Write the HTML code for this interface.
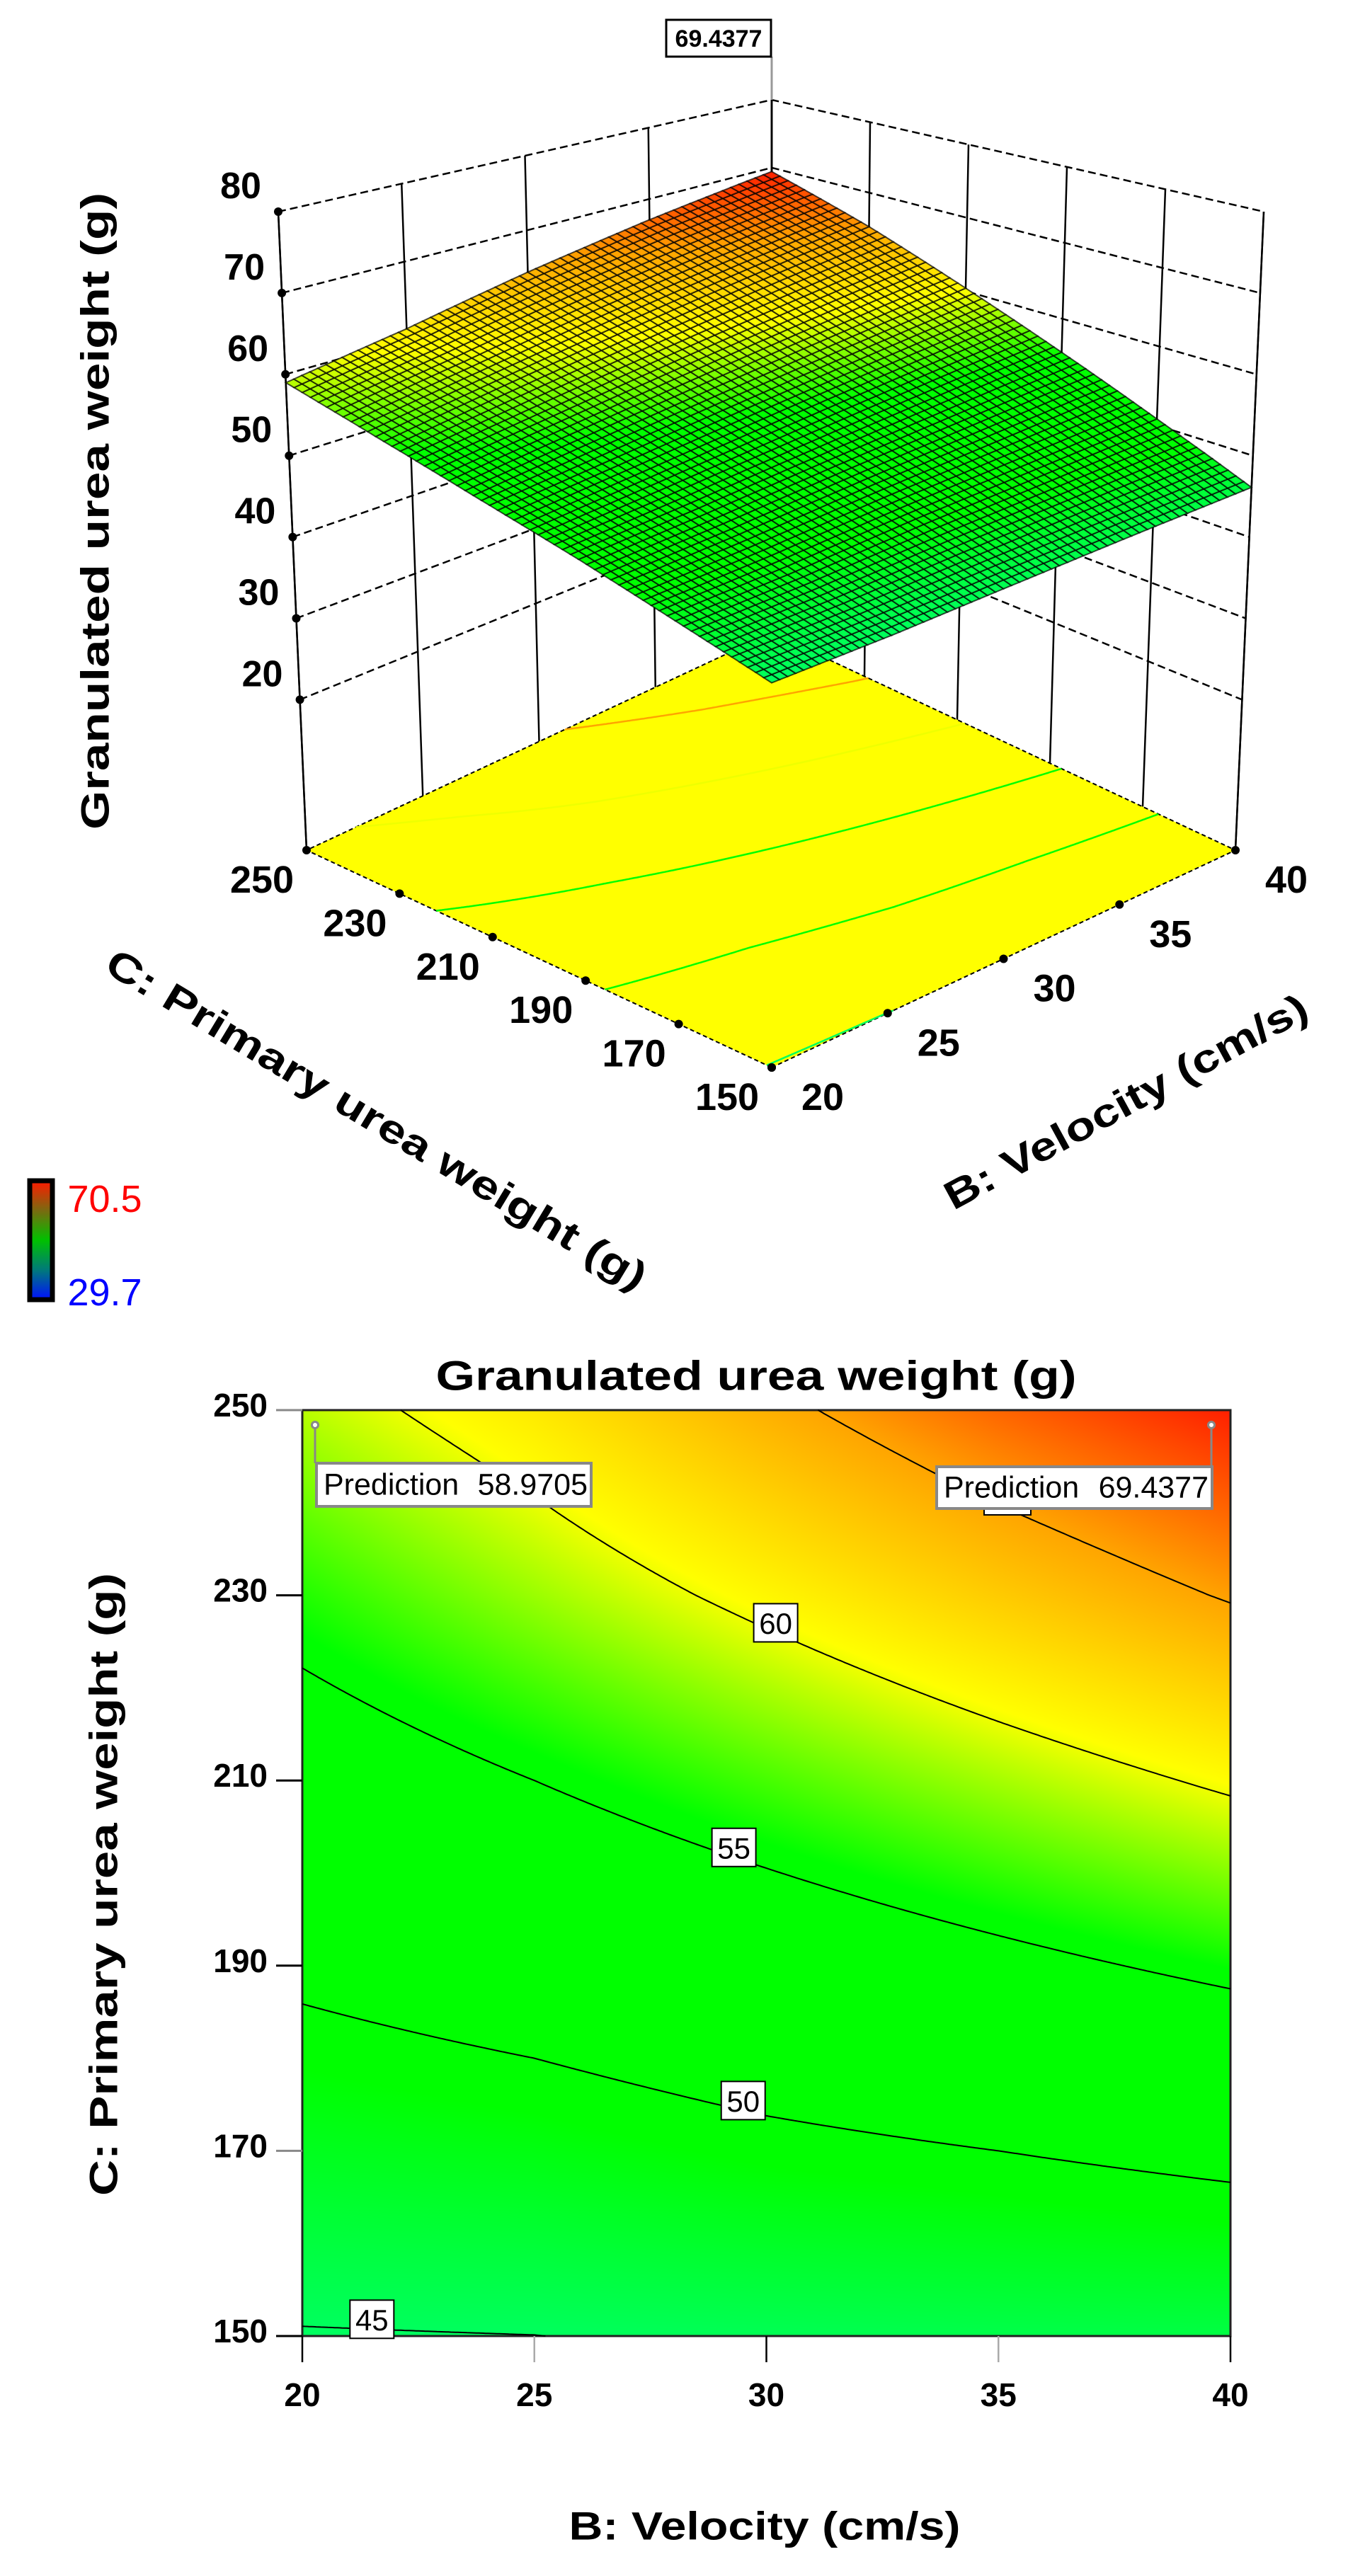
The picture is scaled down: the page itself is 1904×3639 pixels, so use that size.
<!DOCTYPE html>
<html><head><meta charset="utf-8"><style>
html,body{margin:0;padding:0;background:#fff;}
#wrap{position:relative;width:1904px;height:3639px;overflow:hidden;}
svg{position:absolute;left:0;top:0;}
canvas{position:absolute;left:427px;top:1992px;}
text{font-family:"Liberation Sans",Arial,sans-serif;}
</style></head><body>
<div id="wrap">
<canvas id="heat" width="1311" height="1308"></canvas>
<svg id="s" width="1904" height="3639" xmlns="http://www.w3.org/2000/svg"></svg>
</div>
<script>
// ---- data ----
const bVals = [20, 25, 30, 35, 40];
const cVals = [150, 170, 190, 210, 230, 250];
const yC150 = [44.85, 44.98, 45.4, 45.8, 46.1];
const yC170 = [47.7, 48.3, 49.3, 50.0, 50.8];
const yC190 = [50.6, 51.7, 53.0, 54.3, 55.6];
const yC210 = [53.3, 55.0, 56.8, 58.6, 60.4];
const yC230 = [56.1, 58.4, 60.7, 63.0, 65.2];
const yC250 = [58.97, 61.4, 64.4, 67.1, 69.44];
const contourLevels = [45, 50, 55, 60, 65];
const contourLabelLevels = [45, 50, 55, 60];
const contourLabelB = [21.5, 29.5, 29.3, 30.2];
const zTicks = [20, 30, 40, 50, 60, 70, 80];
const bTicks = [20, 25, 30, 35, 40];
const cTicks = [150, 170, 190, 210, 230, 250];
const predLeft = [20, 250, 58.9705];
const predRight = [40, 250, 69.4377];
const colorMin = 29.7, colorMax = 70.5;

const rows = [yC150, yC170, yC190, yC210, yC230, yC250];
function f(B, C) {
  let i = Math.min(3, Math.max(0, Math.floor((B - 20) / 5)));
  let j = Math.min(4, Math.max(0, Math.floor((C - 150) / 20)));
  const u = (B - bVals[i]) / 5, v = (C - cVals[j]) / 20;
  const a = rows[j][i], b = rows[j][i + 1], c = rows[j + 1][i], d = rows[j + 1][i + 1];
  return a * (1 - u) * (1 - v) + b * u * (1 - v) + c * (1 - u) * v + d * u * v;
}
const cmStops = [[29.7, [0, 0, 255]], [38, [0, 255, 255]], [49, [0, 255, 0]], [55.5, [0, 255, 0]], [60.3, [255, 255, 0]], [65, [255, 165, 0]], [70.5, [255, 0, 0]]];
function cmap(val) {
  if (val <= cmStops[0][0]) return cmStops[0][1];
  for (let k = 1; k < cmStops.length; k++) {
    if (val <= cmStops[k][0]) {
      const t = (val - cmStops[k - 1][0]) / (cmStops[k][0] - cmStops[k - 1][0]);
      const A = cmStops[k - 1][1], Bc = cmStops[k][1];
      return [0, 1, 2].map(q => Math.round(A[q] + (Bc[q] - A[q]) * t));
    }
  }
  return cmStops[cmStops.length - 1][1];
}
const rgb = c => `rgb(${c[0]},${c[1]},${c[2]})`;

const NS = "http://www.w3.org/2000/svg";
const svg = document.getElementById('s');
function el(tag, attrs, parent) {
  const e = document.createElementNS(NS, tag);
  for (const k in attrs) e.setAttribute(k, attrs[k]);
  (parent || svg).appendChild(e);
  return e;
}
function txt(str, x, y, size, weight, fill, extra, parent) {
  const t = el('text', Object.assign({x: x, y: y, 'font-size': size, 'font-weight': weight, fill: fill, 'text-anchor': 'middle', 'dominant-baseline': 'central'}, extra || {}), parent);
  t.textContent = str;
  return t;
}

// ---- 3D projection ----
const ZF = 1.5, ZT = 80;
const Ff = [1090, 1508], Rf = [1745, 1201], Lf = [433, 1201], Kf = [1090, 894];
const Ft = [1090, 524], Rt = [1785, 299], Lt = [393, 299], Kt = [1090, 141];
function bil(P0, P1, P2, P3, u, v) {
  return [0, 1].map(q => P0[q] * (1 - u) * (1 - v) + P1[q] * u * (1 - v) + P2[q] * (1 - u) * v + P3[q] * u * v);
}
function proj(B, C, z) {
  const u = (B - 20) / 20, v = (C - 150) / 100, w = (z - ZF) / (ZT - ZF);
  const a = bil(Ff, Rf, Lf, Kf, u, v), b = bil(Ft, Rt, Lt, Kt, u, v);
  return [a[0] + (b[0] - a[0]) * w, a[1] + (b[1] - a[1]) * w];
}
const P = p => p[0].toFixed(1) + ',' + p[1].toFixed(1);

const g3 = el('g', {});



const walls = el('g', {stroke: '#000', fill: 'none', 'stroke-width': 2.5}, g3);


zTicks.forEach(z => {
  const l = el('polyline', {points: P(proj(20, 250, z)) + ' ' + P(proj(40, 250, z)) + ' ' + P(proj(40, 150, z)), 'stroke-dasharray': '11 6'}, walls);
  
  
});
bTicks.forEach(B => {
  const l = el('line', {x1: proj(B, 250, ZF)[0], y1: proj(B, 250, ZF)[1], x2: proj(B, 250, ZT)[0], y2: proj(B, 250, ZT)[1]}, walls);
  
  
});
cTicks.forEach(C => {
  const l = el('line', {x1: proj(40, C, ZF)[0], y1: proj(40, C, ZF)[1], x2: proj(40, C, ZT)[0], y2: proj(40, C, ZT)[1]}, walls);
  
  
});
zTicks.forEach(z => {
  const p = proj(20, 250, z);
  const d = el('circle', {cx: p[0], cy: p[1], r: 6, fill: '#000'}, g3);
  
  
  const t = txt(String(z), p[0] - 53, p[1] - 36, 52, 'bold', '#000', {}, g3);
  
  
});

const floor = el('polygon', {points: [proj(20, 150, ZF), proj(40, 150, ZF), proj(40, 250, ZF), proj(20, 250, ZF)].map(P).join(' '), fill: '#ffff00', stroke: '#000', 'stroke-width': 2, 'stroke-dasharray': '6 4'}, g3);



function solveC(B, L) {
  let lo = 150, hi = 250;
  const flo = f(B, lo), fhi = f(B, hi);
  if (L < flo || L > fhi) return null;
  for (let k = 0; k < 40; k++) { const m = (lo + hi) / 2; if (f(B, m) < L) lo = m; else hi = m; }
  return (lo + hi) / 2;
}
function edgeB(b0, b1, C, L) {
  let lo = b0, hi = b1; const s = f(lo, C) < L;
  for (let k = 0; k < 40; k++) { const m = (lo + hi) / 2; if ((f(m, C) < L) === s) lo = m; else hi = m; }
  return (lo + hi) / 2;
}
function contourPts(L) {
  const pts = []; let prev = null, prevB = null;
  for (let B = 20; B <= 40.0001; B += 0.05) {
    const C = solveC(B, L);
    if (C !== null && prev === null && prevB !== null) {
      const ce = L > f(prevB, 250) ? 250 : 150;
      pts.push([edgeB(prevB, B, ce, L), ce]);
    }
    if (C !== null) pts.push([B, C]);
    else if (prev !== null) { const ce = L > f(B, 250) ? 250 : 150; pts.push([edgeB(prevB, B, ce, L), ce]); }
    prev = C; prevB = B;
  }
  return pts;
}
const floorC = el('g', {fill: 'none', 'stroke-width': 2.5}, g3);


contourLevels.forEach(L => {
  const pts = contourPts(L);
  if (pts.length < 2) return;
  const l = el('polyline', {points: pts.map(p => P(proj(p[0], p[1], ZF))).join(' '), stroke: rgb(cmap(L))}, floorC);
  
  
});
cTicks.forEach(C => {
  const p = proj(20, C, ZF);
  const d = el('circle', {cx: p[0], cy: p[1], r: 6, fill: '#000'}, g3);
  
  
  const t = txt(String(C), p[0] - 63, p[1] + 42, 54, 'bold', '#000', {}, g3);
  
  
});
bTicks.forEach(B => {
  const p = proj(B, 150, ZF);
  const d = el('circle', {cx: p[0], cy: p[1], r: 6, fill: '#000'}, g3);
  
  
  const t = txt(String(B), p[0] + 72, p[1] + 42, 54, 'bold', '#000', {}, g3);
  
  
});
[[20, 250], [40, 250], [40, 150]].forEach(bc => {
  const a = proj(bc[0], bc[1], ZF), b = proj(bc[0], bc[1], ZT);
  const l = el('line', {x1: a[0], y1: a[1], x2: b[0], y2: b[1], stroke: '#000', 'stroke-width': 2.5}, g3);
  
  
});
const kt = proj(40, 250, ZT);
const pl = el('line', {x1: kt[0], y1: kt[1], x2: kt[0], y2: 80, stroke: '#999', 'stroke-width': 3}, g3);


const pb = el('rect', {x: 941, y: 28, width: 148, height: 52, fill: '#fff', stroke: '#000', 'stroke-width': 3}, g3);


const pt = txt(predRight[2].toFixed(4), 1015, 55, 34, 'bold', '#000', {}, g3);



const N = 60;
const surf = el('g', {stroke: 'rgba(0,0,0,0.7)', 'stroke-width': 2}, g3);


for (let i = 0; i < N; i++) {
  for (let j = 0; j < N; j++) {
    const B0 = 20 + 20 * i / N, B1 = 20 + 20 * (i + 1) / N, C0 = 150 + 100 * j / N, C1 = 150 + 100 * (j + 1) / N;
    const pts = [[B0, C0], [B1, C0], [B1, C1], [B0, C1]].map(q => P(proj(q[0], q[1], f(q[0], q[1])))).join(' ');
    const col = cmap(f((B0 + B1) / 2, (C0 + C1) / 2));
    const poly = el('polygon', {points: pts, fill: rgb(col)}, surf);
    
    
  }
}
const lastSurfLine = el('line', {x1: kt[0], y1: proj(40, 250, predRight[2])[1], x2: kt[0], y2: kt[1], stroke: '#000', 'stroke-width': 2.5}, g3);



const zt = txt('Granulated urea weight (g)', 134, 722, 56, 'bold', '#000', {transform: 'rotate(-90 134 722)', textLength: 900, lengthAdjust: 'spacingAndGlyphs'}, g3);


const ct = txt('C: Primary urea weight (g)', 532, 1581, 56, 'bold', '#000', {transform: 'rotate(31 532 1581)', textLength: 880, lengthAdjust: 'spacingAndGlyphs'}, g3);


const bt = txt('B: Velocity (cm/s)', 1590, 1556, 56, 'bold', '#000', {transform: 'rotate(-28.5 1590 1556)', textLength: 575, lengthAdjust: 'spacingAndGlyphs'}, g3);



const defs = el('defs', {});
const lg = el('linearGradient', {id: 'cb', x1: 0, y1: 0, x2: 0, y2: 1}, defs);
[['0', '#ff1a00'], ['0.25', '#7a6a10'], ['0.5', '#00c000'], ['0.75', '#007a7a'], ['1', '#0010ff']].forEach(s => el('stop', {offset: s[0], 'stop-color': s[1]}, lg));
const cb = el('rect', {x: 42, y: 1668, width: 32, height: 168, fill: 'url(#cb)', stroke: '#000', 'stroke-width': 7});


const cmax = txt(String(colorMax), 148, 1694, 54, 'normal', '#ff0000');


const cmin = txt(String(colorMin), 148, 1826, 54, 'normal', '#0000ff');



// ---- 2D contour plot ----
const X0 = 427, X1 = 1738, Y0 = 1992, Y1 = 3300;
const xS = B => X0 + (B - 20) / 20 * (X1 - X0);
const yS = C => Y1 - (C - 150) / 100 * (Y1 - Y0);
(function () {
  const cv = document.getElementById('heat'), ctx = cv.getContext('2d');
  const W = cv.width, H = cv.height, img = ctx.createImageData(W, H);
  for (let y = 0; y < H; y++) {
    const C = 250 - 100 * y / (H - 1);
    for (let x = 0; x < W; x++) {
      const B = 20 + 20 * x / (W - 1);
      const c = cmap(f(B, C)), k = (y * W + x) * 4;
      img.data[k] = c[0]; img.data[k + 1] = c[1]; img.data[k + 2] = c[2]; img.data[k + 3] = 255;
    }
  }
  ctx.putImageData(img, 0, 0);
})();
const g2 = el('g', {});


const frame = el('rect', {x: X0, y: Y0, width: X1 - X0, height: Y1 - Y0, fill: 'none', stroke: '#222', 'stroke-width': 3}, g2);


contourLevels.forEach(L => {
  const pts = contourPts(L);
  if (pts.length < 2) return;
  const l = el('polyline', {points: pts.map(p => xS(p[0]).toFixed(1) + ',' + yS(p[1]).toFixed(1)).join(' '), fill: 'none', stroke: '#000', 'stroke-width': 2}, g2);
  
  
});
cTicks.forEach(C => {
  const y = yS(C);
  const l = el('line', {x1: 390, y1: y, x2: X0, y2: y, stroke: C === 250 || C === 170 ? '#888' : '#000', 'stroke-width': 3}, g2);
  
  
  const t = txt(String(C), 378, y - 7, 46, 'bold', '#000', {'text-anchor': 'end'}, g2);
  
  
});
bTicks.forEach(B => {
  const x = xS(B);
  const l = el('line', {x1: x, y1: Y1, x2: x, y2: 3337, stroke: (B === 25 || B === 35) ? '#aaa' : '#000', 'stroke-width': 2.5}, g2);
  
  
  const t = txt(String(B), x, 3383, 46, 'bold', '#000', {}, g2);
  
  
});
contourLabelLevels.forEach((L, k) => {
  const B = contourLabelB[k], C = solveC(B, L);
  if (C === null) return;
  const cx = xS(B), cy = yS(C) - 14;
  const r = el('rect', {x: cx - 31, y: cy - 27, width: 62, height: 54, fill: '#fff', stroke: '#000', 'stroke-width': 2}, g2);
  
  
  const t = txt(String(L), cx, cy + 1, 42, 'normal', '#000', {}, g2);
  
  
});
const hb = el('rect', {x: 1390, y: 2128, width: 66, height: 12, fill: '#fff', stroke: '#000', 'stroke-width': 2}, g2);


function predBox(pred, bx, by, bw, bh, name) {
  const mx = xS(pred[0]) + (pred[0] === 20 ? 18 : -27), my = yS(pred[1]) + 21;
  const l = el('line', {x1: mx, y1: my, x2: mx, y2: by, stroke: '#888', 'stroke-width': 3}, g2);
  
  
  const c = el('circle', {cx: mx, cy: my, r: 4.5, fill: '#fff', stroke: '#888', 'stroke-width': 3}, g2);
  
  
  const r = el('rect', {x: bx, y: by, width: bw, height: bh, fill: '#fff', stroke: '#888', 'stroke-width': 4}, g2);
  
  
  const t1 = txt('Prediction', bx + 10, by + bh / 2, 43, 'normal', '#000', {'text-anchor': 'start'}, g2);
  
  
  const t2 = txt(pred[2].toFixed(4), bx + bw - 5, by + bh / 2, 43, 'normal', '#000', {'text-anchor': 'end'}, g2);
  
  
}
predBox(predLeft, 447, 2067, 388, 61, 'prediction-left');
predBox(predRight, 1323, 2072, 389, 59, 'prediction-right');
const t2d = txt('Granulated urea weight (g)', 1068, 1944, 58, 'bold', '#000', {textLength: 905, lengthAdjust: 'spacingAndGlyphs'}, g2);


const yt2 = txt('C: Primary urea weight (g)', 146, 2662, 56, 'bold', '#000', {transform: 'rotate(-90 146 2662)', textLength: 880, lengthAdjust: 'spacingAndGlyphs'}, g2);


const xt2 = txt('B: Velocity (cm/s)', 1080, 3568, 56, 'bold', '#000', {textLength: 553, lengthAdjust: 'spacingAndGlyphs'}, g2);


</script>
</body></html>
